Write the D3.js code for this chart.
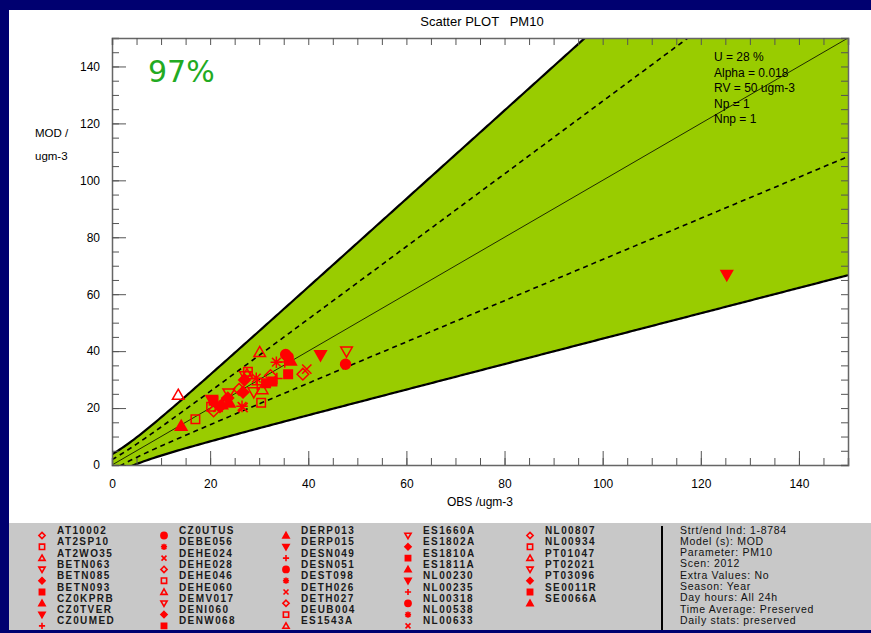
<!DOCTYPE html>
<html>
<head>
<meta charset="utf-8">
<script src="https://cdn.jsdelivr.net/npm/d3@7/dist/d3.min.js"></script>
<style>
  html, body { margin: 0; padding: 0; background: #000070; }
  svg { display: block; }
</style>
</head>
<body>
<svg id="chart" width="871" height="633"></svg>
<script>
// Station list, in legend order
const stations = [
  "AT10002","AT2SP10","AT2WO35","BETN063","BETN085","BETN093","CZ0KPRB","CZ0TVER","CZ0UMED",
  "CZ0UTUS","DEBE056","DEHE024","DEHE028","DEHE046","DEHE060","DEMV017","DENI060","DENW068",
  "DERP013","DERP015","DESN049","DESN051","DEST098","DETH026","DETH027","DEUB004","ES1543A",
  "ES1660A","ES1802A","ES1810A","ES1811A","NL00230","NL00235","NL00318","NL00538","NL00633",
  "NL00807","NL00934","PT01047","PT02021","PT03096","SE0011R","SE0066A"
];
// Yearly mean observed PM10 (ugm-3)
const obsValues = [
  38.9,17.0,13.5,47.8,27.0,35.9,14.1,125.3,35.2,
  35.9,33.5,39.7,32.3,27.7,30.1,28.9,26.7,32.7,
  36.4,42.5,29.6,47.6,29.4,26.7,25.9,30.4,30.6,
  23.8,23.6,31.4,23.9,20.3,33.6,35.4,26.5,21.6,
  20.7,20.2,27.5,27.2,22.0,20.7,22.4
];
// Yearly mean modelled PM10 (ugm-3)
const modValues = [
  31.9,16.1,24.6,39.9,29.9,31.9,13.7,66.8,36.2,
  37.9,36.1,33.7,31.4,32.8,39.6,25.6,25.6,29.3,
  36.7,38.6,28.2,35.4,30.5,20.2,26.6,21.9,26.6,
  25.2,23.5,28.7,21.9,22.9,30.4,38.8,20.6,20.3,
  19.0,20.5,31.8,31.2,20.5,22.6,21.3
];
// Marker cycle used for successive stations
const symbolCycle = ["odiamond","osquare","otri","odtri","fdiamond","fsquare","ftri","fdtri","plus","fcircle","aster","cross"];

const xTickLabels = ["0","20","40","60","80","100","120","140"];
const yTickLabels = ["0","20","40","60","80","100","120","140"];

const statsLines = ["U = 28 %","Alpha = 0.018","RV = 50 ugm-3","Np = 1","Nnp = 1"];
const infoLines = ["Strt/end Ind: 1-8784","Model (s): MOD","Parameter: PM10","Scen: 2012",
  "Extra Values: No","Season: Year","Day hours: All 24h","Time Average: Preserved","Daily stats: preserved"];

const Ur = 0.28, alpha = 0.018, RV = 50;
const maxVal = 150;

const svg = d3.select("#chart");
const narrow = "'Liberation Sans Narrow', 'Liberation Sans', Arial, sans-serif";
const sans = "'Liberation Sans', Arial, sans-serif";

// panels
svg.append("rect").attr("x", 0).attr("y", 0).attr("width", 871).attr("height", 633).attr("fill", "#000070");
svg.append("rect").attr("x", 9).attr("y", 10).attr("width", 862).attr("height", 514).attr("fill", "#ffffff");
svg.append("rect").attr("x", 9).attr("y", 523).attr("width", 862).attr("height", 107).attr("fill", "#c8c8c8");

const L = 112, R = 848, T = 38, B = 465;
const x = d3.scaleLinear().domain([0, maxVal]).range([L, R]);
const y = d3.scaleLinear().domain([0, maxVal]).range([B, T]);

svg.append("defs").append("clipPath").attr("id", "plotclip")
  .append("rect").attr("x", L).attr("y", T).attr("width", R - L).attr("height", B - T);

// measurement uncertainty
const U = o => Ur * Math.sqrt((1 - alpha) * o * o + alpha * RV * RV);
const grid = d3.range(0, maxVal + 0.001, 0.5);

const plot = svg.append("g").attr("clip-path", "url(#plotclip)");
const line = d3.line().x(d => x(d[0])).y(d => y(d[1]));

const upper2 = grid.map(o => [o, o + 2 * U(o)]);
const lower2 = grid.map(o => [o, o - 2 * U(o)]);
plot.append("path")
  .attr("d", line(upper2.concat(lower2.slice().reverse())) + "Z")
  .attr("fill", "#99cc00");
plot.append("path").attr("d", line(upper2)).attr("fill", "none").attr("stroke", "#000").attr("stroke-width", 2.2);
plot.append("path").attr("d", line(lower2)).attr("fill", "none").attr("stroke", "#000").attr("stroke-width", 2.2);
plot.append("path").attr("d", line(grid.map(o => [o, o + U(o)]))).attr("fill", "none")
  .attr("stroke", "#000").attr("stroke-width", 1.6).attr("stroke-dasharray", "5,4");
plot.append("path").attr("d", line(grid.map(o => [o, o - U(o)]))).attr("fill", "none")
  .attr("stroke", "#000").attr("stroke-width", 1.6).attr("stroke-dasharray", "5,4");
plot.append("path").attr("d", line([[0, 0], [maxVal, maxVal]])).attr("fill", "none")
  .attr("stroke", "#000").attr("stroke-width", 0.8);

// axes
const minorTicks = d3.range(0, maxVal + 0.001, 5);
const majorTicks = d3.range(0, 141, 20);
function styleAxis(g) {
  g.selectAll("path.domain").attr("stroke", "#666").attr("stroke-width", 1.5);
  g.selectAll(".tick line").attr("stroke", "#555");
  g.selectAll("text").attr("fill", "#000").attr("font-family", narrow).attr("font-size", 12);
}
const xb = svg.append("g").attr("transform", `translate(0,${B})`)
  .call(d3.axisBottom(x).tickValues(minorTicks).tickSize(-7).tickFormat(""));
styleAxis(xb);
const xbMajor = svg.append("g").attr("transform", `translate(0,${B})`)
  .call(d3.axisBottom(x).tickValues(majorTicks).tickSize(-14).tickPadding(14)
    .tickFormat((d, i) => xTickLabels[i]));
styleAxis(xbMajor);
xbMajor.select("path.domain").remove();

const yl = svg.append("g").attr("transform", `translate(${L},0)`)
  .call(d3.axisLeft(y).tickValues(minorTicks).tickSize(-7).tickFormat(""));
styleAxis(yl);
const ylMajor = svg.append("g").attr("transform", `translate(${L},0)`)
  .call(d3.axisLeft(y).tickValues(majorTicks).tickSize(-14).tickPadding(12)
    .tickFormat((d, i) => yTickLabels[i]));
styleAxis(ylMajor);
ylMajor.select("path.domain").remove();

const xt = svg.append("g").attr("transform", `translate(0,${T})`)
  .call(d3.axisTop(x).tickValues(minorTicks).tickSize(-7).tickFormat(""));
styleAxis(xt);
const yr = svg.append("g").attr("transform", `translate(${R},0)`)
  .call(d3.axisRight(y).tickValues(minorTicks).tickSize(-7).tickFormat(""));
styleAxis(yr);

// titles
svg.append("text").attr("x", 482).attr("y", 26).attr("text-anchor", "middle")
  .style("white-space", "pre")
  .attr("font-family", narrow).attr("font-size", 13).text("Scatter PLOT   PM10");
svg.append("text").attr("x", 480).attr("y", 506).attr("text-anchor", "middle")
  .attr("font-family", narrow).attr("font-size", 12).text("OBS /ugm-3");
svg.append("text").attr("x", 35).attr("y", 137)
  .attr("font-family", sans).attr("font-size", 11.5).text("MOD /");
svg.append("text").attr("x", 35).attr("y", 160)
  .attr("font-family", sans).attr("font-size", 11.5).text("ugm-3");

svg.append("text").attr("x", 148).attr("y", 82)
  .attr("font-family", "'DejaVu Sans', sans-serif").attr("font-size", 30)
  .attr("fill", "#22aa22").text("97%");

svg.append("g").selectAll("text").data(statsLines).join("text")
  .attr("x", 714).attr("y", (d, i) => 61 + i * 15.6)
  .attr("font-family", sans).attr("font-size", 12).attr("fill", "#000").text(d => d);

// marker shapes
function symbolPath(type, r) {
  const h = r * 0.85;
  switch (type) {
    case "odiamond": case "fdiamond":
      return `M0,${-r}L${r},0L0,${r}L${-r},0Z`;
    case "osquare": case "fsquare":
      return `M${-h},${-h}H${h}V${h}H${-h}Z`;
    case "otri": case "ftri":
      return `M0,${-r}L${r},${r * 0.75}L${-r},${r * 0.75}Z`;
    case "odtri": case "fdtri":
      return `M0,${r}L${r},${-r * 0.75}L${-r},${-r * 0.75}Z`;
    case "plus":
      return `M${-r},0H${r}M0,${-r}V${r}`;
    case "fcircle":
      return `M${r},0A${r},${r} 0 1,1 ${-r},0A${r},${r} 0 1,1 ${r},0Z`;
    case "aster": {
      const d = r * 0.75;
      return `M${-r},0H${r}M0,${-r}V${r}M${-d},${-d}L${d},${d}M${-d},${d}L${d},${-d}`;
    }
    case "cross": {
      const d = r * 0.8;
      return `M${-d},${-d}L${d},${d}M${-d},${d}L${d},${-d}`;
    }
  }
}
const isFilled = t => t[0] === "f";
function drawMarker(sel, type, r, sw) {
  sel.attr("d", symbolPath(type, r))
    .attr("fill", isFilled(type) ? "#ff0000" : "none")
    .attr("stroke", "#ff0000")
    .attr("stroke-width", sw);
}

const points = stations.map((s, i) => ({ s, o: obsValues[i], m: modValues[i], t: symbolCycle[i % symbolCycle.length] }));
const pg = svg.append("g").attr("clip-path", "url(#plotclip)");
points.forEach(p => {
  const r = p.t === "fcircle" ? 5 : (p.t === "fsquare" || p.t === "osquare") ? 5 : 5.8;
  pg.append("path").attr("transform", `translate(${x(p.o)},${y(p.m)})`)
    .call(drawMarker, p.t, r, 1.5);
});

// legend
const leg = svg.append("g");
points.forEach((p, i) => {
  const c = Math.floor(i / 9), row = i % 9;
  const ty = 534 + row * 11.3;
  leg.append("path").attr("transform", `translate(${42 + 122 * c},${ty + 1.5})`)
    .call(drawMarker, p.t, 3.1, 1.6);
  leg.append("text").attr("x", 57 + 122 * c).attr("y", ty)
    .attr("font-family", sans).attr("font-size", 10).attr("letter-spacing", 1.4)
    .attr("font-weight", "bold").attr("fill", "#1a1a1a").text(p.s);
});
svg.append("line").attr("x1", 662).attr("x2", 662).attr("y1", 526).attr("y2", 630)
  .attr("stroke", "#000").attr("stroke-width", 2);
svg.append("g").selectAll("text").data(infoLines).join("text")
  .attr("x", 680).attr("y", (d, i) => 533.5 + i * 11.3)
  .attr("font-family", sans).attr("font-size", 10.5).attr("letter-spacing", 0.7)
  .attr("fill", "#111").text(d => d);
</script>
</body>
</html>
